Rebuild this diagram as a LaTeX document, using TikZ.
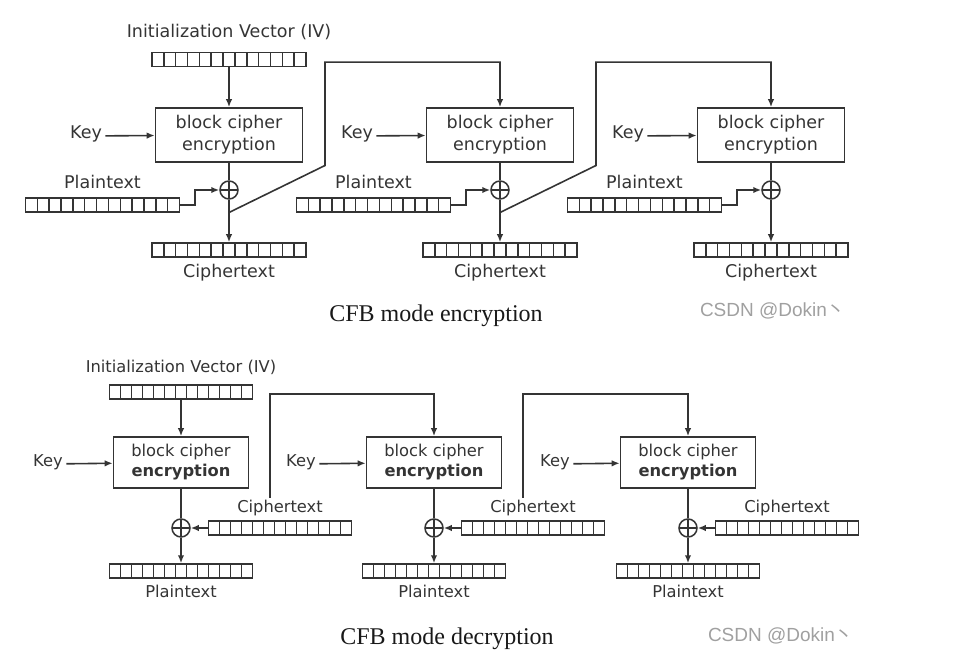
\documentclass[tikz,border=0pt]{standalone}
\usepackage{fontspec}
\setmainfont{DejaVu Sans}
\newfontfamily\capfont{Liberation Serif}
\newfontfamily\markfont{Liberation Sans}
\newfontfamily\cjk{Noto Sans CJK SC}
\usepackage{xcolor}
\usepackage{tikz}
\usetikzlibrary{arrows.meta, positioning, calc}

\definecolor{ink}{HTML}{343434}
\definecolor{wmark}{HTML}{A0A0A0}

\tikzset{
  every node/.style={text=ink},
  lab/.style={text height=0.75em, text depth=0.22em},
  wire/.style={draw=ink, line width=1.6pt},
  arr/.style={wire, -{Latex[length=8pt,width=6.5pt]}},
  cipherbox/.style={draw=ink, line width=1.6pt, align=center, inner sep=0pt},
  reg/.style={draw=ink, line width=1.5pt, inner sep=0pt, minimum height=14pt, minimum width=13*#1pt,
    path picture={\foreach \k in {1,...,12}
      \draw[ink, line width=1.5pt] ([xshift=\k*#1pt]path picture bounding box.south west) -- ([xshift=\k*#1pt]path picture bounding box.north west);}},
  reg/.default=11.85,
  xor/.style={circle, draw=ink, line width=1.5pt, minimum size=18pt, inner sep=0pt,
    path picture={\draw[ink, line width=1.5pt] (path picture bounding box.north) -- (path picture bounding box.south)
      (path picture bounding box.west) -- (path picture bounding box.east);}},
}

\begin{document}
\begin{tikzpicture}[x=1pt, y=-1pt]
  \useasboundingbox (0,0) rectangle (975,663);

  % CFB encryption
  \begin{scope}[every node/.append style={font=\fontsize{17.5}{22}\selectfont}]
    \node[lab] (eivlab) at (229,35) {Initialization Vector (IV)};
    \node[reg] (eiv) at (229,59.5) {};
    \foreach \i/\x in {1/229, 2/500, 3/771} {
      \node[cipherbox, minimum width=147pt, minimum height=54pt] (ebox\i) at (\x,135) {block cipher\\encryption};
      \node[lab] (ekey\i) at (\x-143,136) {Key};
      \node[xor] (exor\i) at (\x,190) {};
      \node[reg] (ept\i) at (\x-126.5,205) {};
      \node[lab] (eptlab\i) at (\x-126.5,186) {Plaintext};
      \node[reg] (ect\i) at (\x,250) {};
      \node[lab] (ectlab\i) at (\x,275) {Ciphertext};
      \draw[arr] (ekey\i) -- (ebox\i);
      \draw[wire] (ebox\i) -- (exor\i);
      \draw[arr] (exor\i) -- (ect\i);
      \draw[arr] (ept\i.east) -- ++(15,0) |- (exor\i.west);
      \coordinate (ej\i) at ($(exor\i.south)!0.3!(ect\i.north)$);
    }
    \draw[arr] (eiv) -- (ebox1);
    % feedback of the ciphertext
    \foreach \i/\j in {1/2, 2/3}
      \draw[arr] (ej\i) -- ++(96,-47) |- ($(ebox\j.north)+(0,-45)$) -- (ebox\j.north);
  \end{scope}
  \node[font=\capfont\fontsize{24}{28}\selectfont, text=black!90] (enccap) at (436,316) {CFB mode encryption};
  \node[font=\markfont\fontsize{19}{22}\selectfont, text=wmark] (mark1) at (773,311) {CSDN @Dokin{\cjk 丶}};

  % CFB decryption
  \begin{scope}[every node/.append style={font=\fontsize{16.3}{20}\selectfont}]
    \node[lab] (divlab) at (181,370) {Initialization Vector (IV)};
    \node[reg=11] (div) at (181,392) {};
    \foreach \i/\x in {1/181, 2/434, 3/688} {
      \node[cipherbox, minimum width=135pt, minimum height=51pt] (dbox\i) at (\x,462.5) {block cipher\\\textbf{encryption}};
      \node[lab] (dkey\i) at (\x-133,464) {Key};
      \node[xor] (dxor\i) at (\x,528) {};
      \node[reg=11] (dct\i) at (\x+99,528) {};
      \node[lab] (dctlab\i) at (\x+99,510) {Ciphertext};
      \node[reg=11] (dpt\i) at (\x,571) {};
      \node[lab] (dptlab\i) at (\x,595) {Plaintext};
      \draw[arr] (dkey\i) -- (dbox\i);
      \draw[wire] (dbox\i) -- (dxor\i);
      \draw[arr] (dxor\i) -- (dpt\i);
      \draw[arr] (dct\i) -- (dxor\i);
    }
    \draw[arr] (div) -- (dbox1);
    % ciphertext into the next block
    \foreach \i/\j in {1/2, 2/3}
      \draw[arr] ([xshift=-10pt, yshift=4pt]dctlab\i.north) |- ($(dbox\j.north)+(0,-42)$) -- (dbox\j.north);
  \end{scope}
  \node[font=\capfont\fontsize{24}{28}\selectfont, text=black!90] (deccap) at (447,639) {CFB mode decryption};
  \node[font=\markfont\fontsize{19}{22}\selectfont, text=wmark] (mark2) at (781,636) {CSDN @Dokin{\cjk 丶}};
\end{tikzpicture}
\end{document}
